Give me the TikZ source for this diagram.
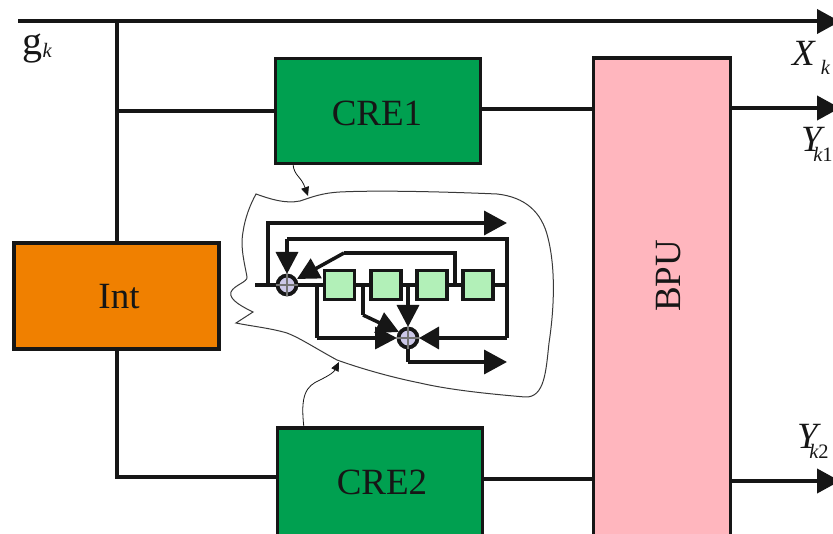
\documentclass[tikz,border=0pt]{standalone}
\usepackage{fontspec}
\setmainfont{Liberation Serif}
\usetikzlibrary{arrows.meta,calc}
\definecolor{boxgreen}{RGB}{0,160,80}
\definecolor{boxorange}{RGB}{240,128,0}
\definecolor{boxpink}{RGB}{255,182,190}
\definecolor{reggreen}{RGB}{178,240,184}
\definecolor{addfill}{RGB}{204,200,232}
\definecolor{ink}{RGB}{22,22,22}
\tikzset{
  block/.style={draw=ink,line width=3.8pt,inner sep=0pt},
  blocktext/.style={inner sep=0pt,font=\fontsize{37}{37}\selectfont,text=ink},
  reg/.style={draw=ink,line width=3.2pt,fill=reggreen,minimum width=30pt,minimum height=29pt,inner sep=0pt},
  adder/.style={circle,draw=ink,line width=3.8pt,fill=addfill,minimum size=19pt,inner sep=0pt},
  wire/.style={draw=ink,line width=4pt},
  iwire/.style={draw=ink,line width=3.5pt},
  bigarrow/.style={-{Triangle[length=23pt,width=24pt]}},
  midarrow/.style={-{Triangle[length=22pt,width=22pt]}},
  thin arrow/.style={draw=ink,line width=0.8pt,-{Triangle[length=9pt,width=8pt]}},
  lab/.style={inner sep=0pt,anchor=base west,text=ink},
}
\newcommand{\bigit}{\fontsize{37}{37}\selectfont\itshape}
\newcommand{\subit}{\fontsize{20.5}{21}\selectfont\itshape}
\begin{document}
\begin{tikzpicture}[x=1pt,y=-1pt]
\useasboundingbox (0,0) rectangle (833,534);
\clip (0,0) rectangle (833,534);
\fill[white] (0,0) rectangle (833,534);

% blob
\draw[draw=ink!85,line width=1pt,fill=white]
  (256,194) .. controls (270,199) and (285,204) .. (300,201)
  .. controls (312,197) and (322,193) .. (340,192)
  .. controls (380,190) and (450,192) .. (497,194)
  .. controls (525,197) and (542,212) .. (548,238)
  .. controls (556,270) and (554,310) .. (549,343)
  .. controls (546,370) and (545,398) .. (525,397)
  .. controls (490,394) and (450,390) .. (420,383)
  .. controls (395,378) and (365,370) .. (337,360)
  .. controls (315,348) and (300,338) .. (287,333)
  .. controls (270,328) and (250,326) .. (236,323)
  -- (253,312)
  .. controls (245,308) and (228,300) .. (231,292)
  .. controls (234,285) and (248,282) .. (247,277)
  .. controls (245,265) and (240,248) .. (243,232)
  .. controls (245,218) and (250,205) .. (256,194) -- cycle;

% blocks
\node[block,fill=boxgreen,minimum width=205pt,minimum height=105pt] (cre1) at (378,111) {};
\node[blocktext] (cre1t) at (377,113) {CRE1};
\node[block,fill=boxgreen,minimum width=205pt,minimum height=112pt] (cre2) at (380,484) {};
\node[blocktext] (cre2t) at (382,482) {CRE2};
\node[block,fill=boxorange,minimum width=205pt,minimum height=106pt] (int) at (116.5,296) {};
\node[blocktext] (intt) at (119,297) {Int};
\node[block,fill=boxpink,minimum width=137pt,minimum height=490pt] (bpu) at (662,303) {};
\node[blocktext,rotate=90] (bput) at (669,276) {BPU};

% main wires
\coordinate (topstart) at (18,21.5);
\coordinate (topend) at (840,21.5);
\coordinate (jtop) at (117,21.5);
\coordinate (j1) at (117,111);
\coordinate (j2) at (117,477);
\coordinate (o1) at (840,108);
\coordinate (o2) at (840,481);
\draw[wire,bigarrow] (topstart) -- (topend);
\draw[wire] (jtop) -- (int.north -| jtop);
\draw[wire] (j1) -- (cre1.west |- j1);
\draw[wire] (int.south -| j2) -- (j2) -- (cre2.west |- j2);
\draw[wire] (cre1.east |- 0,109) -- (bpu.west |- 0,109);
\draw[wire] (cre2.east |- 0,479) -- (bpu.west |- 0,479);
\draw[wire,bigarrow] (bpu.east |- o1) -- (o1);
\draw[wire,bigarrow] (bpu.east |- o2) -- (o2);

% encoder coordinates
\coordinate (lstart) at (255,285);
\coordinate (lend) at (507,285);
\coordinate (a1c) at (287,285);
\coordinate (a2c) at (408,338);
\coordinate (out1) at (507,223);
\coordinate (out2) at (507,362);

% encoder wires
\draw[iwire] (lstart) -- (lend);
\draw[iwire,line join=miter] (268,285) -- (268,223) -- (490,223);
\draw[iwire,bigarrow] (480,223) -- (out1);
\draw[iwire] (lend) -- (507,239) -- (287,239);
\draw[iwire,midarrow] (287,239) -- (a1c |- 0,274);
\draw[iwire] (455,285) -- (455,253) -- (344,253);
\draw[iwire,midarrow] (344,253) -- (297,279);
\draw[iwire] (317,285) -- (317,338);
\draw[iwire,midarrow] (317,338) -- (397,338);
\draw[iwire] (363,285) -- (363,315);
\draw[iwire,midarrow] (363,315) -- (399,332);
\draw[iwire,midarrow] (408,285) -- (408,327);
\draw[iwire] (lend) -- (507,338);
\draw[iwire,-{Triangle[length=20pt,width=22pt]}] (507,338) -- (419,338);
\draw[iwire] (a2c) -- (408,362);
\draw[iwire,bigarrow] (408,362) -- (out2);

% registers
\node[reg] (r1) at (339.5,285) {};
\node[reg] (r2) at (386,285) {};
\node[reg] (r3) at (432,285) {};
\node[reg] (r4) at (478,285) {};

% adders
\node[adder] (a1) at (a1c) {};
\node[adder] (a2) at (a2c) {};
\draw[ink!60,line width=1.4pt] (a1.north) -- (a1.south) (a1.west) -- (a1.east);
\draw[ink!60,line width=1.4pt] (a2.north) -- (a2.south) (a2.west) -- (a2.east);

% thin callouts
\coordinate (b1) at (308,196);
\coordinate (b2) at (339,362);
\draw[thin arrow] (293,164) .. controls (294,176) and (301,176) .. (b1);
\draw[thin arrow] (304,428) .. controls (300,395) and (306,386) .. (320,380) .. controls (330,375) and (334,372) .. (b2);

% labels
\node[lab] (gk) at (22,55) {\fontsize{40}{40}\selectfont g\hspace{0.5pt}\raisebox{-3pt}{\subit k}};
\node[lab] (xk) at (792,66) {\bigit X\hspace{6pt}\raisebox{-9pt}{\subit k}};
\node[lab] (y1) at (801,152) {\bigit Y\hspace{-8.5pt}\raisebox{-10pt}{\subit k\upshape 1}};
\node[lab] (y2) at (797,449) {\bigit Y\hspace{-8.5pt}\raisebox{-10pt}{\subit k\upshape 2}};
\end{tikzpicture}
\end{document}
